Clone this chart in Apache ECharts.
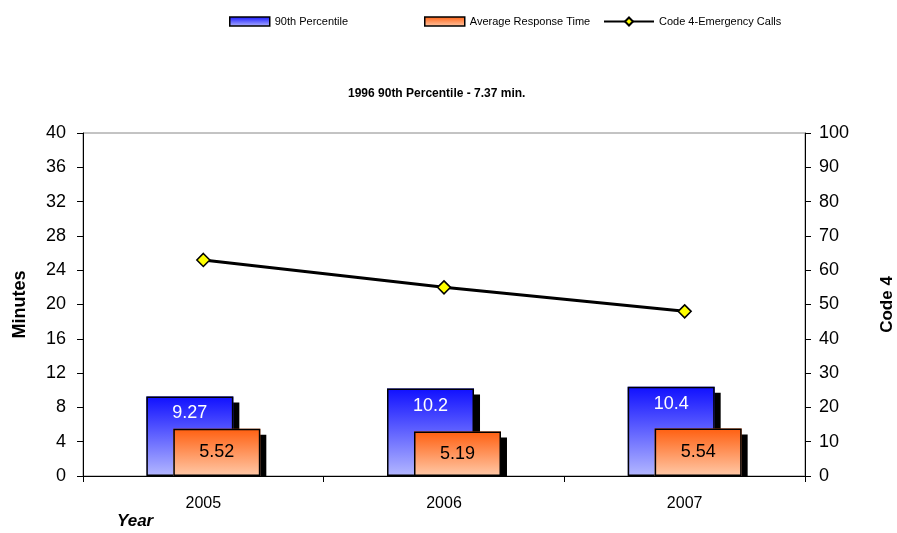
<!DOCTYPE html>
<html style="height: 100%">
<head>
    <meta charset="utf-8">
    <script src="https://cdn.jsdelivr.net/npm/echarts@6/dist/echarts.min.js"></script>
</head>
<body style="height: 100%; margin: 0; background: #fff">
    <div id="main" style="width:897px;height:533px;"></div>
    <script type="text/javascript">
    // data
    var years = ['2005', '2006', '2007'];
    var pct90 = [9.27, 10.2, 10.4];
    var avgResp = [5.52, 5.19, 5.54];
    var code4 = [63, 55, 48];

    var FONT = 'Arial, "Liberation Sans", sans-serif';

    var myChart = echarts.init(document.getElementById('main'));

    function grad(top, bottom) {
        return new echarts.graphic.LinearGradient(0, 0, 0, 1, [
            { offset: 0, color: top },
            { offset: 1, color: bottom }
        ]);
    }

    // filled bars carry the drop shadow, outline bars sit on a twin axis on top
    var fillStyle = {
        shadowColor: '#000',
        shadowBlur: 0,
        shadowOffsetX: 6,
        shadowOffsetY: 6
    };
    var outline = { color: 'rgba(0,0,0,0)', borderColor: '#000', borderWidth: 1.5 };

    var legendText = { fontFamily: FONT, fontSize: 11, color: '#000' };
    var legendItem = { borderColor: '#000', borderWidth: 1.5 };

    var BAR_W = 87, BAR_GAP = '-69%';

    var option = {
        animation: false,
        textStyle: { fontFamily: FONT },
        title: {
            text: '1996 90th Percentile - 7.37 min.',
            left: 343,
            top: 83,
            textStyle: { fontFamily: FONT, fontSize: 12, fontWeight: 'bold', color: '#000' }
        },
        legend: [{
            data: ['90th Percentile'],
            left: 224, top: 11,
            icon: 'rect', itemWidth: 40, itemHeight: 9, itemGap: 0,
            itemStyle: legendItem,
            textStyle: legendText
        }, {
            data: ['Average Response Time'],
            left: 419, top: 11,
            icon: 'rect', itemWidth: 40, itemHeight: 9, itemGap: 0,
            itemStyle: legendItem,
            textStyle: legendText
        }, {
            data: ['Code 4-Emergency Calls'],
            left: 598, top: 11,
            itemWidth: 50, itemHeight: 10, itemGap: 0,
            textStyle: legendText
        }],
        grid: {
            left: 83, right: 92, top: 133, bottom: 57,
            outerBoundsMode: 'none',
            containLabel: false,
            show: true, borderColor: '#888', borderWidth: 1
        },
        xAxis: [{
            type: 'category',
            data: years,
            z: 10,
            axisLine: { lineStyle: { color: '#000', width: 1 } },
            axisTick: { show: true, length: 6, lineStyle: { color: '#000' } },
            axisLabel: { color: '#000', fontSize: 16, margin: 20, fontFamily: FONT }
        }, {
            type: 'category',
            data: years,
            show: false
        }],
        yAxis: [{
            type: 'value',
            min: 0, max: 40, interval: 4,
            name: 'Minutes',
            nameLocation: 'middle',
            nameGap: 54,
            z: 10,
            nameTextStyle: { fontFamily: FONT, fontSize: 18, fontWeight: 'bold', color: '#000' },
            axisLine: { show: true, lineStyle: { color: '#000' } },
            axisTick: { show: true, length: 6, lineStyle: { color: '#000' } },
            axisLabel: { color: '#000', fontSize: 18, margin: 17, fontFamily: FONT },
            splitLine: { show: false }
        }, {
            type: 'value',
            min: 0, max: 100, interval: 10,
            name: 'Code 4',
            nameLocation: 'middle',
            nameGap: 74,
            nameRotate: 90,
            z: 10,
            nameTextStyle: { fontFamily: FONT, fontSize: 17, fontWeight: 'bold', color: '#000' },
            axisLine: { show: true, lineStyle: { color: '#000' } },
            axisTick: { show: true, length: 6, lineStyle: { color: '#000' } },
            axisLabel: { color: '#000', fontSize: 18, margin: 14, fontFamily: FONT },
            splitLine: { show: false }
        }],
        graphic: [{
            // hides the part of the drop shadows that falls below the x axis
            type: 'rect',
            z: 5,
            shape: { x: 84, y: 477, width: 727, height: 12 },
            style: { fill: '#fff' }
        }, {
            type: 'text',
            left: 117,
            top: 513,
            style: { text: 'Year', font: 'italic bold 17px ' + FONT, fill: '#000' }
        }],
        series: [{
            name: '90th Percentile',
            type: 'bar',
            data: pct90,
            barWidth: BAR_W,
            barGap: BAR_GAP,
            itemStyle: Object.assign({ color: grad('#1010ff', '#b4b8ff') }, fillStyle)
        }, {
            type: 'bar',
            xAxisIndex: 1,
            data: pct90,
            barWidth: BAR_W,
            barGap: BAR_GAP,
            silent: true,
            itemStyle: outline,
            label: {
                show: true, position: 'insideTop', distance: 8,
                color: '#fff', fontSize: 18, fontFamily: FONT
            }
        }, {
            name: 'Average Response Time',
            type: 'bar',
            data: avgResp,
            barWidth: BAR_W,
            itemStyle: Object.assign({ color: grad('#ff5f10', '#ffc9a8') }, fillStyle)
        }, {
            type: 'bar',
            xAxisIndex: 1,
            data: avgResp,
            barWidth: BAR_W,
            silent: true,
            itemStyle: outline,
            label: {
                show: true, position: 'inside',
                color: '#000', fontSize: 18, fontFamily: FONT
            }
        }, {
            name: 'Code 4-Emergency Calls',
            type: 'line',
            yAxisIndex: 1,
            data: code4,
            symbol: 'diamond',
            symbolSize: 13,
            lineStyle: { color: '#000', width: 3 },
            itemStyle: { color: '#ffff00', borderColor: '#000', borderWidth: 1.5 }
        }]
    };

    myChart.setOption(option, true);
    </script>
</body>
</html>
